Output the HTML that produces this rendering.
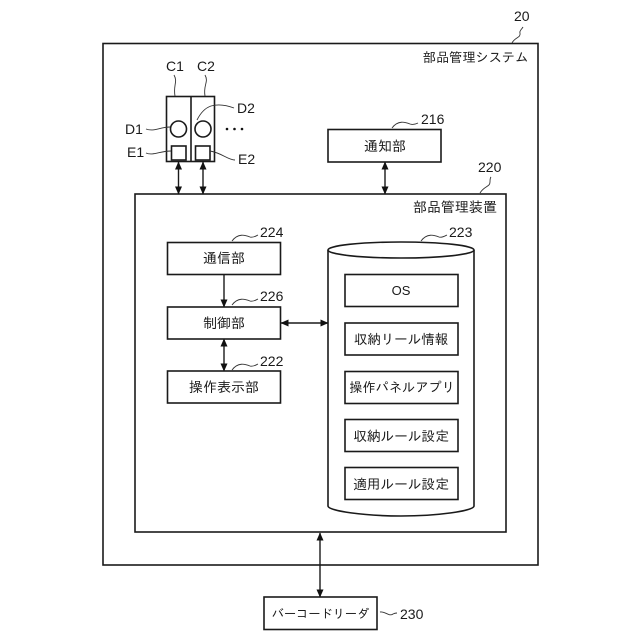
<!DOCTYPE html>
<html><head><meta charset="utf-8"><style>
html,body{margin:0;padding:0;background:#fff}
svg{display:block}
text{fill:#1a1a1a}
.j{font-family:"Liberation Sans","IPAGothic","Noto Sans CJK JP",sans-serif;font-size:14px;text-anchor:middle}
.l{font-family:"Liberation Sans",sans-serif;font-size:14px}
.b{fill:#fff;stroke:#1a1a1a;stroke-width:1.6}
.c{fill:none;stroke:#1a1a1a;stroke-width:1.6}
.w{fill:none;stroke:#333;stroke-width:.9}
</style></head><body>
<svg width="640" height="640" viewBox="0 0 640 640" xmlns="http://www.w3.org/2000/svg">
<defs>
<marker id="a" viewBox="0 0 8 8" refX="7.5" refY="4" markerWidth="8" markerHeight="8" markerUnits="userSpaceOnUse" orient="auto-start-reverse"><path d="M0 0.5L8 4L0 7.5Z" fill="#111"/></marker>
</defs>
<rect class="b" x="103" y="43.5" width="435" height="521.5"/>
<rect class="b" x="135" y="194" width="371" height="338"/>

<!-- C units -->
<rect class="b" x="166.5" y="96.5" width="48" height="65"/>
<path class="c" d="M191 96.5V161.5"/>
<circle class="c" cx="178.5" cy="129" r="8"/>
<circle class="c" cx="203" cy="129" r="8"/>
<rect class="c" x="171.5" y="146" width="14.5" height="14"/>
<rect class="c" x="195.5" y="146" width="14.5" height="14"/>
<circle cx="227" cy="129" r="1.3" fill="#111"/><circle cx="234.5" cy="129" r="1.3" fill="#111"/><circle cx="242" cy="129" r="1.3" fill="#111"/>

<text class="l" x="166" y="71">C1</text>
<text class="l" x="197" y="71">C2</text>
<text class="l" x="237" y="113">D2</text>
<text class="l" x="125" y="134">D1</text>
<text class="l" x="127" y="157">E1</text>
<text class="l" x="238" y="164">E2</text>
<path class="w" d="M174 75C178 82 173 85 175 96"/>
<path class="w" d="M205 75C209 82 203 85 205 96"/>
<path class="w" d="M234 108C226 105 218 104 211 106C205 108 200 114 197 120"/>
<path class="w" d="M146 129C154 132 160 127 170 127"/>
<path class="w" d="M146 153C153 156 160 151 171 151"/>
<path class="w" d="M235 160C228 160 222 153 210 151"/>

<!-- arrows -->
<g class="c" style="stroke-width:1.4">
<path d="M178.5 162V194" marker-start="url(#a)" marker-end="url(#a)"/>
<path d="M203 162V194" marker-start="url(#a)" marker-end="url(#a)"/>
<path d="M385 162V194" marker-start="url(#a)" marker-end="url(#a)"/>
<path d="M224 274V307" marker-end="url(#a)"/>
<path d="M224 339V371" marker-start="url(#a)" marker-end="url(#a)"/>
<path d="M281 323H328" marker-start="url(#a)" marker-end="url(#a)"/>
<path d="M320 533V597" marker-start="url(#a)" marker-end="url(#a)"/>
</g>

<!-- title labels -->
<text class="l" x="514" y="21">20</text>
<path class="w" d="M512 43C515 37 521 38 520 33C519 31 522 29 523 27"/>
<text class="j" x="475.5" y="62" style="font-size:13.2px">部品管理システム</text>
<text class="l" x="421" y="124">216</text>
<path class="w" d="M392 128C398 120 405 122 410 124C413 125 416 124 418 123"/>
<rect class="b" x="328" y="129.5" width="113" height="32.5"/>
<text class="j" x="385" y="151">通知部</text>
<text class="l" x="478" y="172">220</text>
<path class="w" d="M480 193C484 186 490 187 490 182C490 180 490 178 491 177"/>
<text class="j" x="455" y="212">部品管理装置</text>

<!-- left boxes -->
<text class="l" x="260" y="237">224</text>
<path class="w" d="M232 241C238 233 245 235 250 237C253 238 256 236 258 235"/>
<rect class="b" x="167.5" y="242.5" width="113" height="32"/>
<text class="j" x="224" y="263">通信部</text>
<text class="l" x="260" y="301">226</text>
<path class="w" d="M232 305C238 297 245 299 250 301C253 302 256 300 258 299"/>
<rect class="b" x="167.5" y="307" width="113" height="32"/>
<text class="j" x="224" y="328">制御部</text>
<text class="l" x="260" y="366">222</text>
<path class="w" d="M232 370C238 362 245 364 250 366C253 367 256 365 258 364"/>
<rect class="b" x="167.5" y="371" width="113" height="32"/>
<text class="j" x="224" y="392">操作表示部</text>

<!-- cylinder -->
<text class="l" x="449" y="237">223</text>
<path class="w" d="M421 241C427 233 434 235 439 237C442 238 445 236 447 235"/>
<path class="b" d="M328 250V506C328 511 365 516 401 516C437 516 474 511 474 506V250"/>
<ellipse class="b" cx="401" cy="250" rx="73" ry="8"/>
<rect class="b" x="345" y="274.5" width="113" height="32"/>
<text class="j" x="401" y="295" style="font-family:'Liberation Sans',sans-serif;font-size:13px">OS</text>
<rect class="b" x="345" y="323" width="113" height="32"/>
<text class="j" x="401" y="344" style="font-size:13.5px">収納リール情報</text>
<rect class="b" x="345" y="371.5" width="113" height="32"/>
<text class="j" x="402" y="392" style="font-size:13.2px">操作パネルアプリ</text>
<rect class="b" x="345" y="419.5" width="113" height="32"/>
<text class="j" x="401" y="441" style="font-size:13.7px">収納ルール設定</text>
<rect class="b" x="345" y="467.5" width="113" height="32"/>
<text class="j" x="401" y="489" style="font-size:13.7px">適用ルール設定</text>

<!-- barcode -->
<rect class="b" x="264" y="597" width="113" height="32.5"/>
<text class="j" x="320.5" y="618" style="font-size:12.2px">バーコードリーダ</text>
<path class="w" d="M380 612C385 611 389 617 393 614C395 613 396 613 397 613"/>
<text class="l" x="400" y="619">230</text>
</svg>
</body></html>
